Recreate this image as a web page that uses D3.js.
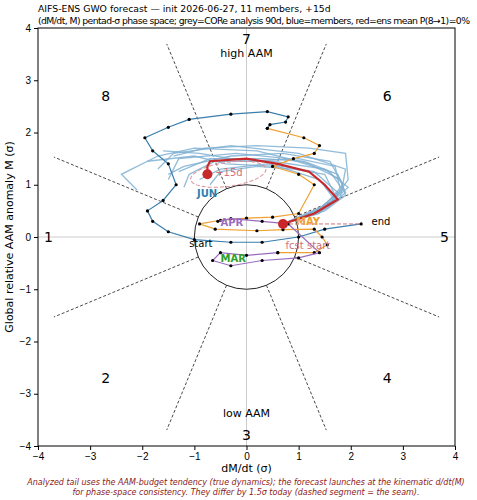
<!DOCTYPE html><html><head><meta charset="utf-8"><script src="https://cdn.jsdelivr.net/npm/d3@7"></script>
<style>body{margin:0;background:#fff;font-family:"DejaVu Sans",sans-serif}</style></head><body><svg id="c" width="477" height="500"></svg><script>
const ticks=[-4,-3,-2,-1,0,1,2,3,4];
const phaseLabels=[["1",-3.8,0],["2",-2.7,-2.7],["3",0,-3.78],["4",2.7,-2.7],["5",3.8,0],["6",2.7,2.7],["7",0,3.78],["8",-2.7,2.7]];
const histBlue=[[2.2,0.25],[1.5,0.15],[1.0,0.0],[0.3,-0.1],[-0.3,-0.1],[-1.0,-0.05],[-1.5,0.1],[-1.8,0.3],[-1.9,0.5],[-1.6,0.7],[-1.35,1.0],[-1.5,1.4],[-1.8,1.65],[-1.95,1.9],[-1.5,2.1],[-1.1,2.25],[-0.3,2.35],[0.4,2.4],[0.8,2.3],[0.75,2.2],[0.45,2.15],[0.4,2.08]];
const histOrange=[[0.4,2.08],[1.1,1.9],[1.4,1.75],[1.3,1.6],[0.9,1.5],[0.5,1.35],[1.0,1.2],[1.3,1.0],[1.0,0.45],[0.5,0.38],[0,0.36],[-0.5,0.32],[-0.9,0.25],[-0.6,0.15],[0.2,0.12],[0.7,0.14],[1.3,0.15],[1.45,0.0],[1.55,-0.15],[1.3,-0.3],[0.6,-0.3]];
const histPurple=[[0.6,-0.3],[0,-0.35],[-0.5,-0.3],[-0.65,-0.45],[-0.3,-0.55],[0.3,-0.45],[1.0,-0.4],[1.4,-0.3],[0.8,0.25],[0.3,0.3],[-0.3,0.35],[-0.55,0.3]];
const members=[
[[0.7,0.25],[1.5,0.5],[1.9,0.8],[1.8,1.1],[1.2,1.4],[0.2,1.65],[-1.0,1.7],[-1.7,1.55],[-2.4,1.2],[-2.1,0.9]],
[[0.7,0.25],[1.4,0.45],[1.85,0.9],[1.6,1.25],[0.8,1.5],[-0.2,1.6],[-1.3,1.5],[-1.5,1.1]],
[[0.7,0.25],[1.3,0.5],[1.8,0.75],[1.9,1.3],[1.0,1.6],[-0.3,1.75],[-1.4,1.6],[-1.7,1.3]],
[[0.7,0.25],[1.5,0.55],[1.95,0.95],[1.5,1.3],[0.5,1.45],[-0.6,1.45],[-1.1,1.2],[-1.2,0.95]],
[[0.7,0.25],[1.4,0.5],[1.7,0.7],[1.4,1.1],[0.6,1.35],[-0.4,1.4],[-1.0,1.55],[-1.9,1.45]],
[[0.7,0.25],[1.6,0.6],[1.95,1.1],[1.9,1.6],[1.2,1.7],[0.2,1.75],[-0.8,1.7],[-1.4,1.55]],
[[0.7,0.25],[1.3,0.45],[1.75,0.85],[1.3,1.25],[0.4,1.4],[-0.5,1.3],[-0.9,1.1]],
[[0.7,0.25],[1.5,0.6],[1.85,1.0],[1.6,1.45],[0.7,1.6],[-0.3,1.55],[-1.2,1.35],[-1.5,1.2]],
[[0.7,0.25],[1.45,0.5],[1.8,0.9],[1.7,1.35],[1.0,1.5],[0,1.45],[-0.9,1.6],[-1.6,1.65]],
[[0.7,0.25],[1.35,0.5],[1.7,0.8],[1.5,1.2],[0.9,1.3],[0.2,1.35],[-0.5,1.25],[-0.7,1.0]],
[[0.7,0.25],[1.55,0.55],[1.9,0.85],[1.75,1.2],[1.1,1.45],[0.3,1.5],[-0.7,1.5],[-1.3,1.25]]];
const mean=[[0.7,0.25],[1.3,0.45],[1.75,0.72],[1.5,1.0],[1.2,1.25],[0.6,1.4],[0,1.5],[-0.7,1.45],[-0.75,1.35],[-0.75,1.2]];
const svg=d3.select("#c"),L=38,R=455,T=28,B=446;
const x=d3.scaleLinear().domain([-4,4]).range([L,R]),y=d3.scaleLinear().domain([-4,4]).range([B,T]);
const line=d3.line().x(d=>x(d[0])).y(d=>y(d[1]));
svg.append("text").attr("x",38).attr("y",12).attr("font-size",9.3).text("AIFS-ENS GWO forecast — init 2026-06-27, 11 members, +15d");
svg.append("text").attr("x",38).attr("y",24).attr("font-size",9.3).attr("textLength",432).text("(dM/dt, M) pentad-σ phase space; grey=CORe analysis 90d, blue=members, red=ens mean   P(8→1)=0%");
svg.append("line").attr("x1",x(-4)).attr("x2",x(4)).attr("y1",y(0)).attr("y2",y(0)).attr("stroke","#ccc");
svg.append("line").attr("y1",y(-4)).attr("y2",y(4)).attr("x1",x(0)).attr("x2",x(0)).attr("stroke","#ccc");
for(let k=0;k<8;k++){const a=(22.5+45*k)*Math.PI/180;svg.append("line").attr("x1",x(Math.cos(a))).attr("y1",y(Math.sin(a))).attr("x2",x(4*Math.cos(a))).attr("y2",y(4*Math.sin(a))).attr("stroke","#333").attr("stroke-width",0.9).attr("stroke-dasharray","3,2");}
svg.append("ellipse").attr("cx",x(0)).attr("cy",y(0)).attr("rx",x(1)-x(0)).attr("ry",y(0)-y(1)).attr("fill","none").attr("stroke","#222");
phaseLabels.forEach(p=>svg.append("text").attr("x",x(p[1])).attr("y",y(p[2])+5).attr("text-anchor","middle").attr("font-size",14).text(p[0]));
svg.append("text").attr("x",x(0)).attr("y",y(3.45)).attr("text-anchor","middle").attr("font-size",11).text("high AAM");
svg.append("text").attr("x",x(0)).attr("y",y(-3.45)).attr("text-anchor","middle").attr("font-size",11).text("low AAM");
members.forEach(m=>svg.append("path").attr("d",line(m)).attr("fill","none").attr("stroke","#7fb0d3").attr("stroke-width",1.3).attr("opacity",0.85));
const hist=[[histBlue,"#3a7fae"],[histOrange,"#f0a030"],[histPurple,"#9a6cc0"]];
hist.forEach(h=>{svg.append("path").attr("d",line(h[0])).attr("fill","none").attr("stroke",h[1]).attr("stroke-width",1.2);
 svg.selectAll(null).data(h[0]).join("circle").attr("cx",d=>x(d[0])).attr("cy",d=>y(d[1])).attr("r",1.6).attr("fill","#000");});
svg.append("path").attr("d",line([[0.7,0.25],[2.2,0.25]])).attr("stroke","#d07080").attr("stroke-dasharray","4,2").attr("fill","none");
svg.append("ellipse").attr("cx",x(-0.35)).attr("cy",y(1.2)).attr("rx",38).attr("ry",12).attr("fill","none").attr("stroke","#e09098").attr("stroke-dasharray","4,2").attr("transform",`rotate(-8,${x(-0.35)},${y(1.2)})`);
svg.append("path").attr("d",line(mean)).attr("fill","none").attr("stroke","#c8282a").attr("stroke-width",2.2);
svg.append("circle").attr("cx",x(0.7)).attr("cy",y(0.25)).attr("r",5).attr("fill","#c8282a");
svg.append("circle").attr("cx",x(-0.75)).attr("cy",y(1.2)).attr("r",5).attr("fill","#c8282a");
const labs=[["JUN",-0.95,0.85,"#2e7fb0"],["MAY",0.95,0.3,"#f0a030"],["APR",-0.5,0.28,"#9a6cc0"],["MAR",-0.5,-0.4,"#2ca02c"]];
labs.forEach(l=>svg.append("text").attr("x",x(l[1])).attr("y",y(l[2])+4).attr("font-size",10).attr("font-weight","bold").attr("fill",l[3]).text(l[0]));
svg.append("text").attr("x",x(-0.6)).attr("y",y(1.25)+4).attr("font-size",10).attr("fill","#d07080").text("+15d");
svg.append("text").attr("x",x(0.75)).attr("y",y(-0.15)+4).attr("font-size",10).attr("fill","#d07080").text("fcst start");
svg.append("text").attr("x",x(2.4)).attr("y",y(0.3)+4).attr("font-size",10).text("end");
svg.append("text").attr("x",x(-1.1)).attr("y",y(-0.12)+4).attr("font-size",10).text("start");
svg.append("rect").attr("x",L).attr("y",T).attr("width",R-L).attr("height",B-T).attr("fill","none").attr("stroke","#000");
svg.append("g").attr("transform",`translate(0,${B})`).call(d3.axisBottom(x).tickValues(ticks).tickSize(4)).call(g=>g.select(".domain").remove()).selectAll("text").attr("font-size",10);
svg.append("g").attr("transform",`translate(${L},0)`).call(d3.axisLeft(y).tickValues(ticks).tickSize(4)).call(g=>g.select(".domain").remove()).selectAll("text").attr("font-size",10);
svg.append("text").attr("x",x(0)).attr("y",472).attr("text-anchor","middle").attr("font-size",11).text("dM/dt (σ)");
svg.append("text").attr("transform",`translate(13,${y(0)}) rotate(-90)`).attr("text-anchor","middle").attr("font-size",11).text("Global relative AAM anomaly M (σ)");
svg.append("text").attr("x",246).attr("y",485).attr("text-anchor","middle").attr("font-size",8).attr("font-style","italic").attr("fill","#8b1a1a").text("Analyzed tail uses the AAM-budget tendency (true dynamics); the forecast launches at the kinematic d/dt(M)");
svg.append("text").attr("x",246).attr("y",495).attr("text-anchor","middle").attr("font-size",8).attr("font-style","italic").attr("fill","#8b1a1a").text("for phase-space consistency. They differ by 1.5σ today (dashed segment = the seam).");
</script></body></html>
